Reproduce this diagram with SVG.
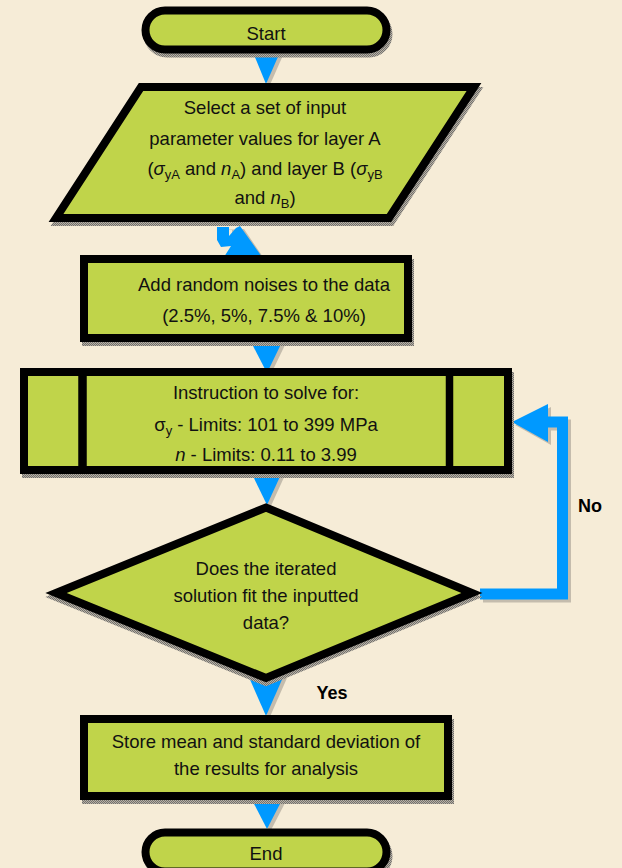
<svg xmlns="http://www.w3.org/2000/svg" width="622" height="868" viewBox="0 0 622 868">
<defs>
<pattern id="sh" width="2" height="2" patternUnits="userSpaceOnUse"><rect width="2" height="2" fill="#b9b1a2"/><rect width="1" height="1" fill="#707070"/><rect x="1" y="1" width="1" height="1" fill="#707070"/></pattern>
<style>
.node{fill:#c0d44a;stroke:#000;stroke-width:8;stroke-linejoin:miter}
.shd{fill:url(#sh);stroke:url(#sh);stroke-width:8}
.t{font-family:"Liberation Sans",Arial,sans-serif;font-size:18.5px;fill:#111;text-anchor:middle}
.lb{font-family:"Liberation Sans",Arial,sans-serif;font-size:18px;font-weight:bold;fill:#000;text-anchor:middle}
.arr{fill:#0099ff}
.ash{fill:#c4bcad}
.i{font-style:italic}
.s{font-size:13px}
</style>
</defs>
<rect width="622" height="868" fill="#f6ecd7"/>
<g id="connectors">
<g transform="translate(3,3)" class="ash">
<polygon points="252,50 281,50 266,84"/>
<polygon points="217,227 229,227 229,246 224,257 262,257 241,226"/>
<polygon points="251,342 282,342 267,373"/>
<polygon points="250,470 283,470 267,505"/>
<polygon points="248,675 284,675 266,716"/>
<polygon points="252,800 282,800 267,829"/>
<path d="M480,594 H562.5 V422 H547" fill="none" stroke="#c4bcad" stroke-width="11"/>
<polygon points="512,422 548,404 548,442"/>
</g>
<polygon class="arr" points="252,50 281,50 266,84"/>
<polygon class="arr" points="217,227 229,227 229,236 236,228 240,226 262,257 224,257 231,246 221,247 217,240"/>
<polygon class="arr" points="251,342 282,342 267,373"/>
<polygon class="arr" points="250,470 283,470 267,505"/>
<polygon class="arr" points="248,675 284,675 266,716"/>
<polygon class="arr" points="252,800 282,800 267,829"/>
<path d="M480,594 H562.5 V422 H547" fill="none" stroke="#0099ff" stroke-width="11"/>
<polygon class="arr" points="512,422 548,404 548,442"/>
</g>
<g id="start">
<rect class="shd" x="147.5" y="14.5" width="241" height="39" rx="19.5"/>
<rect class="node" x="145.5" y="10.5" width="241" height="39" rx="19.5"/>
<text class="t" x="266" y="39.5">Start</text>
</g>
<g id="input">
<polygon class="shd" transform="translate(2,4)" points="141,87 474,87 389,218 56,218"/>
<polygon class="node" points="141,87 474,87 389,218 56,218"/>
<text class="t" x="265" y="113.5">Select a set of input</text>
<text class="t" x="265" y="144.5">parameter values for layer A</text>
<text class="t" x="265" y="174.5">(<tspan class="i">σ</tspan><tspan class="s" dy="4">yA</tspan><tspan dy="-4"> and </tspan><tspan class="i">n</tspan><tspan class="s" dy="4">A</tspan><tspan dy="-4">) and layer B (</tspan><tspan class="i">σ</tspan><tspan class="s" dy="4">yB</tspan></text>
<text class="t" x="265" y="203.5">and <tspan class="i">n</tspan><tspan class="s" dy="4">B</tspan><tspan dy="-4">)</tspan></text>
</g>
<g id="noise">
<rect class="shd" x="86" y="263" width="324" height="79"/>
<rect class="node" x="84" y="259" width="324" height="79"/>
<text class="t" x="264" y="290.5">Add random noises to the data</text>
<text class="t" x="264" y="321.5">(2.5%, 5%, 7.5% &amp; 10%)</text>
</g>
<g id="solve">
<rect class="shd" x="26" y="376" width="484" height="98"/>
<rect class="node" x="24" y="372" width="484" height="98"/>
<line x1="82.5" y1="372" x2="82.5" y2="470" stroke="#000" stroke-width="8.5"/>
<line x1="449.5" y1="372" x2="449.5" y2="470" stroke="#000" stroke-width="7.5"/>
<text class="t" x="266" y="398.5">Instruction to solve for:</text>
<text class="t" x="266" y="430.5">σ<tspan class="s" dy="4">y</tspan><tspan dy="-4"> - Limits: 101 to 399 MPa</tspan></text>
<text class="t" x="266" y="460.5"><tspan class="i">n</tspan> - Limits: 0.11 to 3.99</text>
</g>
<g id="decision">
<polygon class="shd" transform="translate(0,4)" points="56,593 266,507.5 472,593 266,678"/>
<polygon class="node" points="56,593 266,507.5 472,593 266,678"/>
<text class="t" x="266" y="574.5">Does the iterated</text>
<text class="t" x="266" y="601.5">solution fit the inputted</text>
<text class="t" x="266" y="628.5">data?</text>
</g>
<g id="store">
<rect class="shd" x="86" y="723" width="364" height="77"/>
<rect class="node" x="84" y="719" width="364" height="77"/>
<text class="t" x="266" y="747.5">Store mean and standard deviation of</text>
<text class="t" x="266" y="774.5">the results for analysis</text>
</g>
<g id="end">
<rect class="shd" x="147.5" y="836.5" width="241" height="39" rx="19.5"/>
<rect class="node" x="145.5" y="832.5" width="241" height="39" rx="19.5"/>
<text class="t" x="266" y="859.5">End</text>
</g>
<g id="labels">
<text class="lb" x="590" y="511.5">No</text>
<text class="lb" x="332" y="698.5">Yes</text>
</g>
</svg>
